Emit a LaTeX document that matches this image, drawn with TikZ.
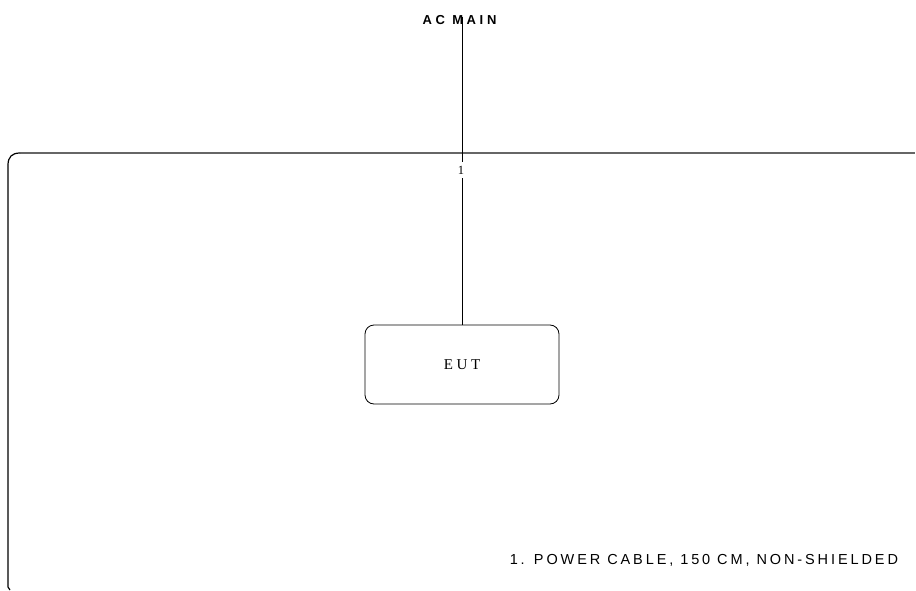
\documentclass[tikz,border=0pt]{standalone}
\usepackage{fontspec}
\setmainfont{Liberation Serif}
\setsansfont{Liberation Sans}
\newfontfamily\acfont[LetterSpace=28]{Liberation Sans}
\newfontfamily\notefont[LetterSpace=20]{Liberation Sans}
\newfontfamily\eutfont[LetterSpace=24]{Liberation Serif}
\begin{document}
\begin{tikzpicture}[x=1pt,y=-1pt,
  lbl/.style={inner sep=0pt, outer sep=0pt},
  eutbox/.style={draw, line width=0.8pt, rounded corners=9pt, minimum width=194pt, minimum height=79pt, inner sep=0pt},
  frame/.style={line width=1.2pt}]
\useasboundingbox (0,0) rectangle (916,591);
% frame
\draw[frame, color=black!60] (20,153) -- (915,153);
\draw[frame] (20,153) .. controls (12,153) and (8,157) .. (8,165) -- (8,587) -- (10,590);
% nodes
\node[lbl, font=\acfont\bfseries\fontsize{13}{15}\selectfont] (ac) at (459.5,20) {AC MAIN};
\coordinate (top) at (462,17);
\node[lbl, font=\fontsize{12.5}{14}\selectfont, inner ysep=4pt] (one) at (461,170) {1};
\node[eutbox, font=\eutfont\fontsize{15}{17}\selectfont] (eut) at (462,364.5) {EUT};
\node[lbl, anchor=east, font=\notefont\fontsize{14.5}{16}\selectfont] (note) at (898,560) {1. POWER CABLE, 150 CM, NON-SHIELDED};
% connectors
\draw[line width=0.8pt] (top) -- (top |- one.north);
\draw[line width=0.8pt] (top |- one.south) -- (eut.north);
\end{tikzpicture}
\end{document}
